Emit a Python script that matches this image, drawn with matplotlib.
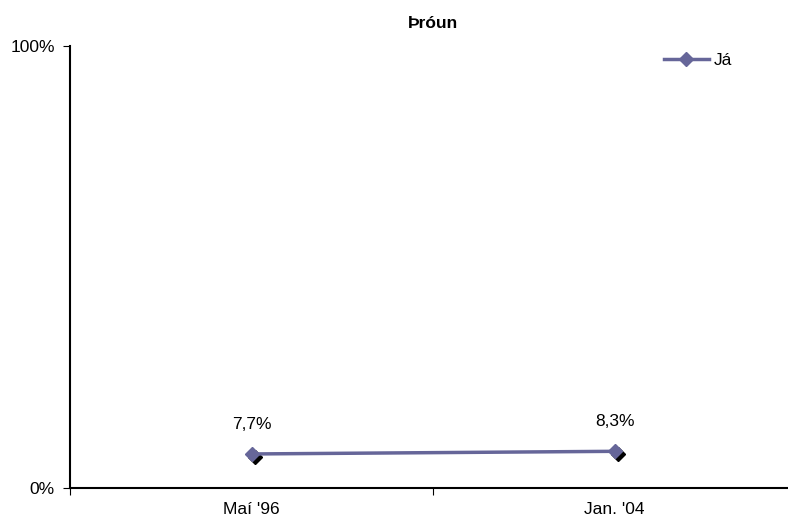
import matplotlib
matplotlib.use('Agg')
import matplotlib.pyplot as plt
import matplotlib.transforms as mtransforms
from matplotlib.ticker import FixedLocator

plt.rcParams['font.family'] = ['Liberation Sans', 'DejaVu Sans']

categories = ["Maí '96", "Jan. '04"]
values = [7.7, 8.3]
labels = ['7,7%', '8,3%']
series_name = 'Já'

fig = plt.figure(figsize=(7.88, 5.2), dpi=100)
ax = fig.add_axes([70 / 788, 32 / 520, 726 / 788, 442 / 520])

x = [0.5, 1.5]
line_color = '#666699'
fs = 12.5

# black shadow behind the markers
shadow = mtransforms.offset_copy(ax.transData, fig=fig, x=3, y=-3, units='dots')
ax.plot(x, values, ls='none', marker='D', markersize=7, color='black',
        transform=shadow, zorder=2)
ax.plot(x, values, color=line_color, lw=2.5, marker='D', markersize=7,
        markerfacecolor=line_color, markeredgecolor=line_color,
        label=series_name, zorder=3)

for xi, v, t in zip(x, values, labels):
    ax.annotate(t, (xi, v), xytext=(0, 16), textcoords='offset points',
                ha='center', va='bottom', fontsize=fs)

ax.set_xlim(0, 2)
ax.set_ylim(0, 100)
ax.xaxis.set_major_locator(FixedLocator([0, 1, 2]))
ax.xaxis.set_minor_locator(FixedLocator(x))
ax.set_xticklabels(['', '', ''])
ax.set_xticklabels(categories, minor=True)
ax.tick_params(axis='x', which='minor', length=0, labelsize=fs, pad=10)
ax.tick_params(axis='x', which='major', length=5, direction='out')
ax.set_yticks([0, 100])
ax.set_yticklabels(['0%', '100%'], fontsize=fs)
ax.tick_params(axis='y', length=5, direction='out', pad=6)

for s in ['top', 'right']:
    ax.spines[s].set_visible(False)
ax.spines['left'].set_linewidth(1.5)
ax.spines['bottom'].set_linewidth(1.5)
ax.set_title('Þróun', fontsize=fs, fontweight='bold', pad=13)

leg = ax.legend(loc='upper left', bbox_to_anchor=(578 / 726, 1.02),
                frameon=False, fontsize=fs, handlelength=2.6, handletextpad=0.3)

fig.savefig('out.png', dpi=100)
